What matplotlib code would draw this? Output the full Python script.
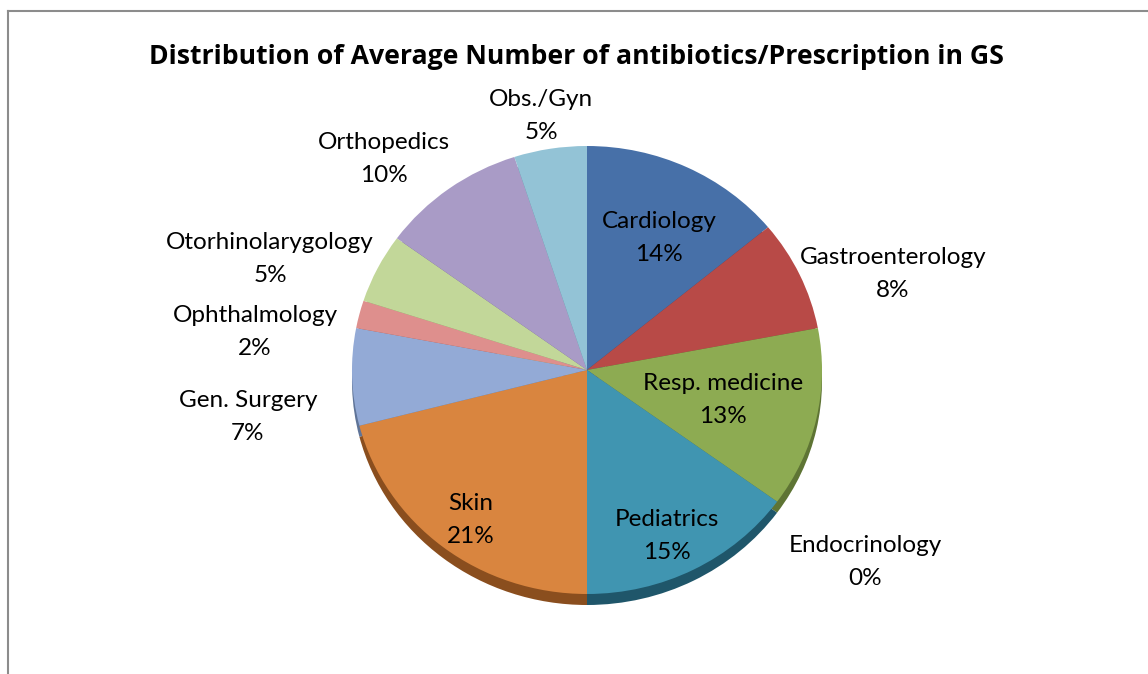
import matplotlib
matplotlib.use("Agg")
import matplotlib.pyplot as plt
from matplotlib.lines import Line2D

W, H = 1148, 674

departments = ["Cardiology", "Gastroenterology", "Resp. medicine", "Endocrinology",
               "Pediatrics", "Skin", "Gen. Surgery", "Ophthalmology",
               "Otorhinolarygology", "Orthopedics", "Obs./Gyn"]
shares = [14, 8, 13, 0, 15, 21, 7, 2, 5, 10, 5]
title = "Distribution of Average Number of antibiotics/Prescription in GS"

top_colors = ["#4770A8", "#B84A47", "#8DAB52", "#8064A2", "#4095B1", "#D9853F",
              "#93AAD6", "#DE8F8D", "#C2D799", "#A99BC6", "#93C3D6"]
side_colors = ["#2B4A74", "#7A2C2A", "#5E7434", "#54406E", "#1F566A", "#8A4E1E",
               "#5F7498", "#9A5A58", "#86975F", "#6F6388", "#5E8C9E"]

# label centres in pixels (x, y from top)
label_pos = [(659, 238), (893, 274), (723, 400), (865, 562), (667, 536), (471, 520),
             (248, 417), (255, 332), (270, 259), (384, 159), (541, 116)]

plt.rcParams["font.family"] = ["Lato", "DejaVu Sans"]

fig = plt.figure(figsize=(W / 100, H / 100), dpi=100)

# pie geometry in pixels
cx, cy, rx, ry, depth = 587, 370, 235, 224, 11
ax = fig.add_axes([(cx - rx) / W, (H - (cy + ry + depth)) / H,
                   2 * rx / W, (2 * ry + depth) / H])

d = depth / ry
ax.pie(shares, colors=side_colors, startangle=90, counterclock=False,
       center=(0, -d), radius=1, wedgeprops=dict(linewidth=0))
ax.pie(shares, colors=top_colors, startangle=90, counterclock=False,
       center=(0, 0), radius=1, wedgeprops=dict(linewidth=0))
ax.set_aspect("auto")
ax.set_xlim(-1, 1)
ax.set_ylim(-1 - d, 1)
ax.axis("off")

for name, val, (px, py) in zip(departments, shares, label_pos):
    fig.text(px / W, 1 - py / H, f"{name}\n{val}%", ha="center", va="center",
             fontsize=17.5, linespacing=1.7, color="#000000")

fig.text(576 / W, 1 - 57 / H, title, ha="center", va="center",
         fontsize=19.2, fontweight="bold", family=["Open Sans", "DejaVu Sans"])

# chart frame (left and top edges visible)
fig.add_artist(Line2D([8 / W, 8 / W], [0, 1 - 11 / H], color="#8C8C8C", lw=1.5,
                      transform=fig.transFigure))
fig.add_artist(Line2D([8 / W, 1], [1 - 11 / H, 1 - 11 / H], color="#8C8C8C", lw=1.5,
                      transform=fig.transFigure))

fig.savefig("out.png", dpi=100, facecolor="white")
